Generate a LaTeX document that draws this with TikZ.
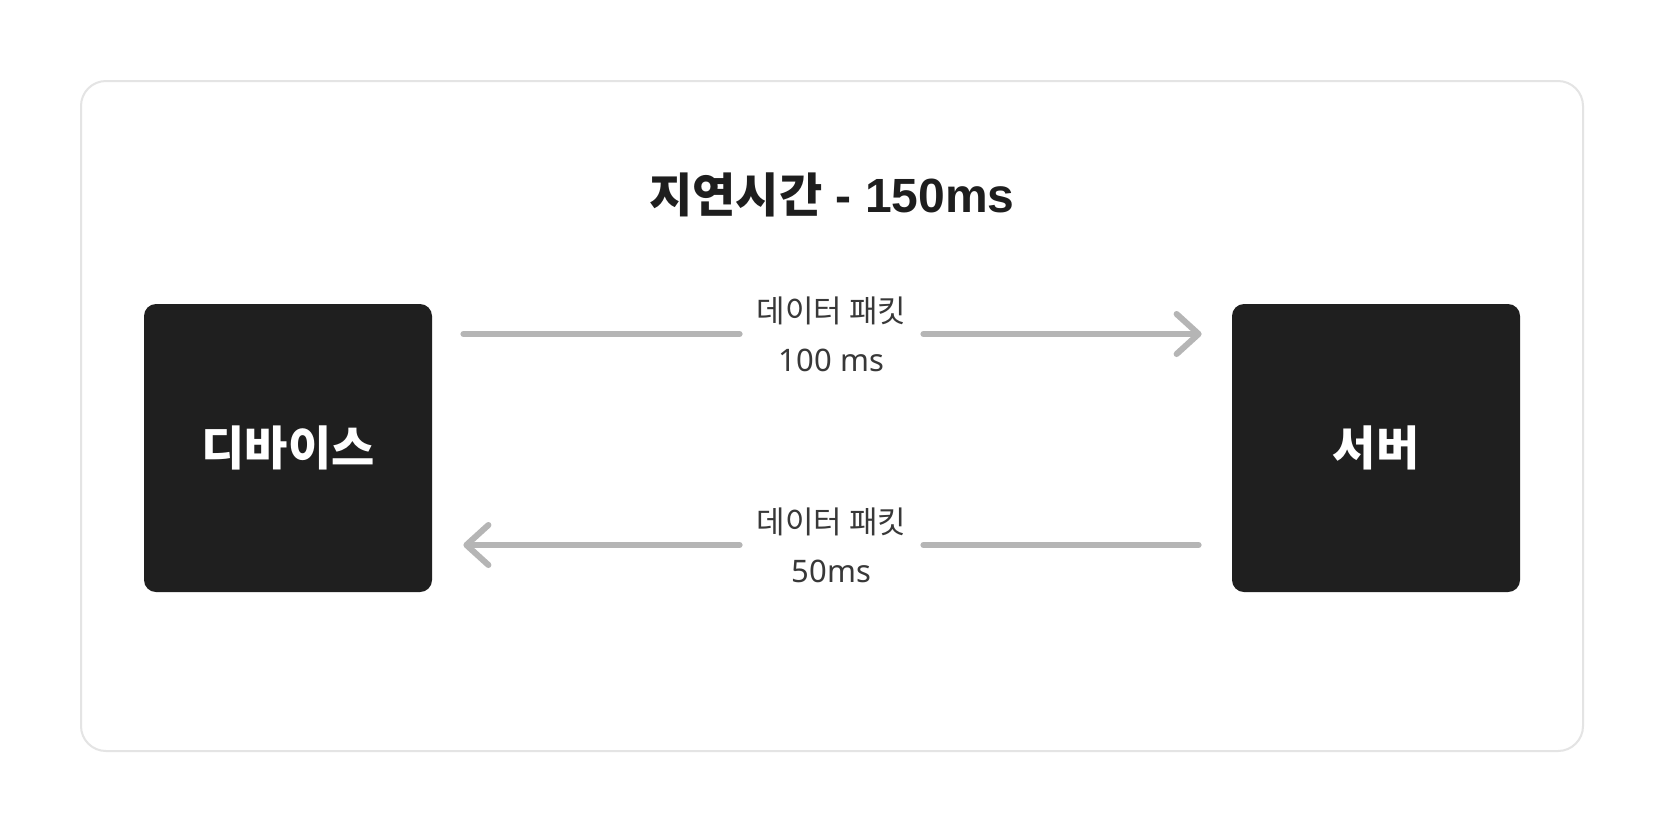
\documentclass[tikz,border=0pt]{standalone}
\usepackage{fontspec}
\setmainfont{Noto Sans}
\newfontfamily\kr{Noto Sans CJK KR}
\newfontfamily\ttl{Liberation Sans}
\usetikzlibrary{arrows.meta,calc}
\definecolor{boxfill}{HTML}{1F1F1F}
\definecolor{framec}{HTML}{E4E4E4}
\definecolor{arrowc}{HTML}{B5B5B5}
\definecolor{titlec}{HTML}{1E1E1E}
\definecolor{labelc}{HTML}{383838}
\tikzset{
  devbox/.style={fill=boxfill, rounded corners=6pt, minimum width=144pt, minimum height=144pt, inner sep=0pt, text=white, font={\kr\bfseries\fontsize{23.5pt}{28pt}\selectfont}},
  lbl/.style={text=labelc, align=center, minimum width=91.5pt, inner sep=0pt, font={\fontsize{15.5pt}{24.5pt}\selectfont}},
  conn/.style={draw=arrowc, line width=3pt, line cap=round},
  tip/.style={-{Straight Barb[length=11pt,width=20pt,round]}}
}
\begin{document}
\begin{tikzpicture}[x=0.5pt,y=-0.5pt]
\useasboundingbox (0,0) rectangle (1664,832);
\fill[white] (0,0) rectangle (1664,832);
\draw[framec, line width=1pt, rounded corners=12.5pt, fill=white] (81,81) rectangle (1583,751);
\node[text=titlec, font={\ttl\bfseries\fontsize{24pt}{28pt}\selectfont}] (title) at (832,195) {{\kr\fontsize{23.5pt}{28pt}\selectfont 지연시간} - 150ms};
\node[devbox] (dev) at (288,448) {디바이스};
\node[devbox] (srv) at (1376,448) {서버};
\node[lbl] (l1) at (831.5,334) {{\kr 데이터 패킷}\\100 ms};
\node[lbl] (l2) at (831.5,545) {{\kr 데이터 패킷}\\50ms};
\coordinate (s1) at ([xshift=15.5pt]dev.east |- l1.west);
\coordinate (e1) at ([xshift=-15pt]srv.west |- l1.east);
\coordinate (s2) at ([xshift=-16.5pt]srv.west |- l2.east);
\coordinate (e2) at ([xshift=15.5pt]dev.east |- l2.west);
\draw[conn] (s1) -- (l1.west);
\draw[conn,tip] (l1.east) -- (e1);
\draw[conn] (s2) -- (l2.east);
\draw[conn,tip] (l2.west) -- (e2);
\end{tikzpicture}
\end{document}
